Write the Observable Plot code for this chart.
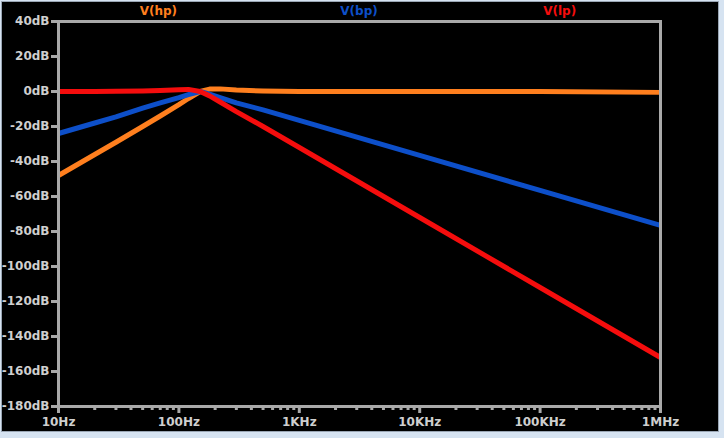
<!DOCTYPE html>
<html>
<head>
<meta charset="utf-8">
<script src="https://cdn.jsdelivr.net/npm/d3@7"></script>
<script src="https://cdn.jsdelivr.net/npm/@observablehq/plot@0.6"></script>
<style>
  html, body { margin: 0; padding: 0; background: #d6e3f1; }
  #wrap { position: relative; width: 724px; height: 438px; background: #d6e3f1; overflow: hidden; }
  #panel { position: absolute; left: 1px; top: 1px; width: 716px; height: 429px; background: #000; border: 1px solid #9aa6b4; }
  #chart { position: absolute; left: 0; top: 0; }
  #legend { position: absolute; left: 58px; top: 4px; width: 602px; display: flex;
            font: bold 12px "DejaVu Sans", sans-serif; }
  #legend span { flex: 1; text-align: center; }
</style>
</head>
<body>
<div id="wrap">
  <div id="panel"></div>
  <div id="chart"></div>
  <div id="legend"></div>
</div>
<script>
const freqs = [10, 20, 30, 50, 70, 100, 120, 150, 180, 220, 300, 500, 1000, 10000, 100000, 1000000];
// Series values in dB
const hp = [-48, -36, -29, -20, -14, -7.5, -4, 0, 1.4, 1.5, 0.8, 0.3, 0, 0, 0, -0.5];
const bp = [-24, -18, -14.5, -9.5, -6.5, -3.5, -1.8, 0, -1.5, -3.5, -6.5, -10.5, -16.5, -36.5, -56.5, -76.5];
const lp = [0, 0, 0.1, 0.3, 0.6, 1, 1.2, 0, -2.5, -6, -11.5, -20, -32, -72, -112, -152];

const seriesNames = ["V(hp)", "V(bp)", "V(lp)"];
const seriesColors = ["#ff7f1e", "#0d4fc9", "#f50d0d"];

const yTicks = [40, 20, 0, -20, -40, -60, -80, -100, -120, -140, -160, -180];
const xMajor = [10, 100, 1000, 10000, 100000, 1000000];
const xMajorLabels = ["10Hz", "100Hz", "1KHz", "10KHz", "100KHz", "1MHz"];
const xMinor = [20,30,40,50,60,70,80,90, 200,300,400,500,600,700,800,900,
                2000,3000,4000,5000,6000,7000,8000,9000,
                20000,30000,40000,50000,60000,70000,80000,90000,
                200000,300000,400000,500000,600000,700000,800000,900000];

const seriesData = [hp, bp, lp];
const rows = seriesNames.flatMap((name, s) =>
  freqs.map((f, i) => ({series: name, f, db: seriesData[s][i]})));

const gray = "#a9a9a9";
const textColor = "#cfcfcf";

const chart = Plot.plot({
  width: 724,
  height: 438,
  marginLeft: 58,
  marginRight: 64,
  marginTop: 21,
  marginBottom: 32,
  style: {background: "transparent", color: textColor, fontFamily: "'DejaVu Sans', sans-serif", fontSize: "12px", fontWeight: "bold", overflow: "visible"},
  x: {type: "log", domain: [10, 1000000], label: null},
  y: {domain: [-180, 40], label: null},
  color: {domain: seriesNames, range: seriesColors},
  marks: [
    Plot.axisX({ticks: xMinor, tickSize: 4, tickFormat: () => "", stroke: gray, strokeWidth: 3, label: null}),
    Plot.axisX({ticks: xMajor, tickSize: 7, tickPadding: 4, tickFormat: (d) => xMajorLabels[xMajor.indexOf(d)], stroke: gray, strokeWidth: 3, label: null}),
    Plot.axisY({ticks: yTicks, tickSize: 7, tickPadding: 2, tickFormat: (d) => d + "dB", stroke: gray, strokeWidth: 3, label: null}),
    Plot.line(rows, {x: "f", y: "db", z: "series", stroke: "series", strokeWidth: 5, strokeLinejoin: "round", strokeLinecap: "butt"}),
    Plot.frame({stroke: gray, strokeWidth: 3})
  ]
});
document.getElementById("chart").appendChild(chart);

const legend = document.getElementById("legend");
seriesNames.forEach((n, i) => {
  const s = document.createElement("span");
  s.textContent = n;
  s.style.color = seriesColors[i];
  legend.appendChild(s);
});
</script>
</body>
</html>
